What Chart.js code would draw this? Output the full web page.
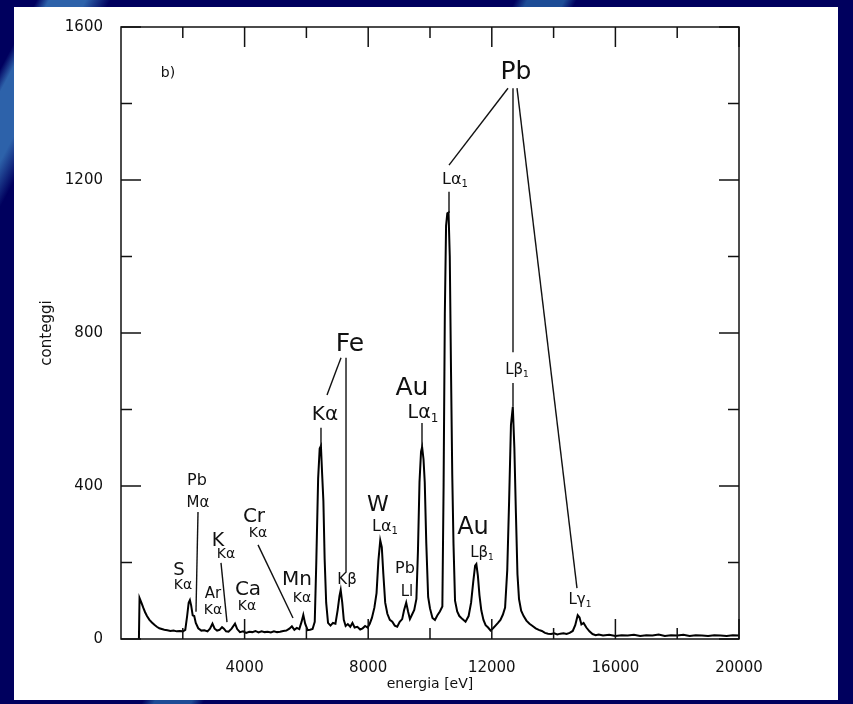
<!DOCTYPE html>
<html>
<head>
<meta charset="utf-8">
<script src="https://cdn.jsdelivr.net/npm/chart.js@4/dist/chart.umd.min.js"></script>
<style>
  html, body { margin: 0; padding: 0; }
  body {
    width: 853px; height: 704px; overflow: hidden;
    background-color: #00005e;
    background-image:
      linear-gradient(118deg, transparent 0%, transparent 3%, #2d62aa 4%, #2d62aa 7%, transparent 9%),
      linear-gradient(118deg, transparent 42%, #1d4c96 43%, #1d4c96 46%, transparent 47%);
  }
  canvas { display: block; }
</style>
</head>
<body>
<canvas id="spectrum" width="853" height="704"></canvas>
<script>
// spectrum: energy [eV] and counts
const energy = [
  580, 600, 660, 720, 780, 840, 920, 1000, 1080, 1160, 1240, 1320, 1400, 1500, 1600, 1700, 1800, 1900, 2000,
  2080, 2140, 2190, 2230, 2270, 2320, 2370, 2420, 2500, 2600, 2700, 2800, 2880, 2960, 3030, 3110, 3190, 3270,
  3330, 3400, 3480, 3580, 3690, 3760, 3850, 3950, 4050, 4150, 4250, 4350, 4450, 4550, 4650, 4750, 4850, 4950,
  5050, 5150, 5250, 5350, 5450, 5530, 5610, 5690, 5770, 5840, 5900, 5960, 6040, 6120, 6200, 6270, 6320, 6380,
  6430, 6470, 6510, 6550, 6590, 6640, 6700, 6780, 6860, 6940, 7010, 7070, 7110, 7160, 7210, 7270, 7340, 7420,
  7490, 7560, 7650, 7740, 7820, 7900, 7980, 8050, 8120, 8200, 8270, 8330, 8390, 8440, 8490, 8550, 8620, 8700,
  8780, 8860, 8940, 9020, 9100, 9160, 9230, 9290, 9350, 9420, 9490, 9560, 9610, 9660, 9710, 9745, 9790, 9830,
  9880, 9940, 10000, 10080, 10160, 10240, 10320, 10400, 10440, 10480, 10520, 10560, 10600, 10640, 10680, 10720,
  10760, 10810, 10880, 10950, 11050, 11150, 11250, 11330, 11400, 11460, 11500, 11550, 11600, 11660, 11730,
  11800, 11880, 11960, 12040, 12120, 12200, 12280, 12360, 12430, 12500, 12560, 12620, 12680, 12730, 12780,
  12830, 12880, 12950, 13030, 13120, 13220, 13320, 13420, 13520, 13620, 13720, 13820, 13920, 14020, 14120,
  14220, 14320, 14420, 14520, 14620, 14700, 14780, 14840, 14900, 14970, 15060, 15160, 15260, 15360, 15460,
  15600, 15800, 16000, 16200, 16400, 16600, 16800, 17000, 17200, 17400, 17600, 17800, 18000, 18200, 18400,
  18600, 18800, 19000, 19200, 19400, 19600, 19800, 20000
];
const counts = [
  0, 107, 95, 82, 70, 60, 50, 43, 37, 32, 28, 26, 24, 23, 21, 22, 20, 21, 20,
  24, 60, 95, 102, 88, 62, 60, 42, 28, 22, 23, 20, 27, 40, 27, 22, 24, 31,
  27, 20, 19, 27, 40, 26, 18, 20, 16, 19, 18, 21, 17, 20, 18, 19, 17, 20,
  18, 19, 21, 22, 27, 33, 24, 29, 26, 44, 63, 40, 23, 24, 26, 45, 200, 420,
  498, 505, 430, 360, 210, 95, 42, 35, 42, 40, 75, 112, 128, 95, 50, 34, 39, 32,
  42, 30, 32, 25, 28, 34, 30, 40, 55, 82, 120, 205, 258, 240, 170, 95, 66, 50,
  45, 35, 32, 45, 52, 75, 95, 72, 52, 64, 76, 105, 230, 410, 490, 502, 470, 410,
  250, 110, 80, 55, 50, 62, 72, 85, 400, 850, 1080, 1113, 1115, 1000, 700, 430,
  250, 100, 72, 60, 52, 45, 60, 95, 150, 192, 196, 165, 115, 75, 50,
  36, 30, 22, 28, 35, 42, 50, 64, 82, 180, 360, 560, 607, 500, 330,
  170, 105, 74, 60, 48, 40, 34, 28, 24, 21, 16, 14, 13, 15, 12,
  14, 15, 13, 16, 21, 36, 62, 56, 38, 42, 30, 20, 13, 10, 12,
  9, 11, 8, 10, 9, 11, 8, 10, 9, 12, 8, 10, 9, 11, 8,
  10, 9, 8, 10, 9, 8, 10, 9
];

// axis ticks
const xTickLabels = [4000, 8000, 12000, 16000, 20000];
const xMinorTicks = [2000, 6000, 10000, 14000, 18000];
const yTickLabels = [0, 400, 800, 1200, 1600];
const yMinorTicks = [200, 600, 1000, 1400];

// peak labels: text, subscript, energy, counts, font size
const labels = [
  ["b)", "", 1521, 1480, 14],
  ["Pb", "", 12783, 1480, 25],
  ["S", "", 1877, 180, 18],
  ["Kα", "", 2006, 139, 14],
  ["Pb", "", 2460, 413, 16],
  ["Mα", "", 2492, 356, 15],
  ["K", "", 3139, 256, 19],
  ["Kα", "", 3398, 222, 14],
  ["Ar", "", 2977, 118, 15],
  ["Kα", "", 2977, 76, 14],
  ["Ca", "", 4110, 128, 20],
  ["Kα", "", 4078, 86, 14],
  ["Cr", "", 4304, 319, 20],
  ["Kα", "", 4434, 277, 14],
  ["Mn", "", 5696, 154, 20],
  ["Kα", "", 5858, 105, 14],
  ["Fe", "", 7411, 769, 25],
  ["Kα", "", 6602, 586, 20],
  ["Kβ", "", 7314, 154, 15],
  ["W", "", 8317, 350, 22],
  ["Lα", "1", 8544, 293, 16],
  ["Pb", "", 9191, 183, 16],
  ["Ll", "", 9256, 123, 15],
  ["Au", "", 9417, 654, 25],
  ["Lα", "1", 9773, 591, 19],
  ["Lα", "1", 10809, 1200, 16],
  ["Au", "", 11392, 290, 24],
  ["Lβ", "1", 11683, 225, 15],
  ["Lβ", "1", 12816, 703, 15],
  ["Lγ", "1", 14854, 102, 15]
];

// leader lines: energy1, counts1, energy2, counts2
const leaders = [
  [12524, 1440, 10615, 1239],
  [12686, 1440, 12686, 750],
  [12816, 1440, 14757, 133],
  [10615, 1169, 10615, 1114],
  [12686, 669, 12686, 607],
  [7120, 735, 6667, 638],
  [7282, 735, 7282, 175],
  [6472, 552, 6472, 502],
  [9741, 565, 9741, 502],
  [2492, 332, 2427, 71],
  [3236, 199, 3430, 44],
  [4434, 246, 5566, 55]
];

const font = "'DejaVu Sans', sans-serif";
const ink = "#111";

const framePlugin = {
  id: "frame",
  beforeDraw(chart) {
    const c = chart.ctx;
    c.save();
    c.fillStyle = "#fff";
    c.fillRect(14, 7, 824, 693);
    c.restore();
  },
  afterDatasetsDraw(chart) {
    const { ctx: c, chartArea: a, scales: { x, y } } = chart;
    c.save();
    c.strokeStyle = ink;
    c.lineWidth = 1.5;
    c.strokeRect(a.left, a.top, a.right - a.left, a.bottom - a.top);

    const seg = (x1, y1, x2, y2) => { c.beginPath(); c.moveTo(x1, y1); c.lineTo(x2, y2); c.stroke(); };
    xTickLabels.concat(xMinorTicks).forEach(v => {
      const px = x.getPixelForValue(v);
      const len = xTickLabels.includes(v) ? 20 : 11;
      seg(px, a.bottom, px, a.bottom - len);
      seg(px, a.top, px, a.top + len);
    });
    yTickLabels.concat(yMinorTicks).forEach(v => {
      const py = y.getPixelForValue(v);
      const len = yTickLabels.includes(v) ? 20 : 11;
      seg(a.left, py, a.left + len, py);
      seg(a.right, py, a.right - len, py);
    });

    // leader lines
    c.lineWidth = 1.4;
    leaders.forEach(([e1, n1, e2, n2]) => {
      seg(x.getPixelForValue(e1), y.getPixelForValue(n1), x.getPixelForValue(e2), y.getPixelForValue(n2));
    });

    // peak labels
    c.fillStyle = ink;
    c.textBaseline = "middle";
    labels.forEach(([t, sub, e, n, size]) => {
      const px = x.getPixelForValue(e);
      const py = y.getPixelForValue(n);
      c.font = size + "px " + font;
      const w = c.measureText(t).width;
      const subSize = Math.round(size * 0.62);
      c.font = subSize + "px " + font;
      const ws = sub ? c.measureText(sub).width : 0;
      const x0 = px - (w + ws) / 2;
      c.font = size + "px " + font;
      c.textAlign = "left";
      c.fillText(t, x0, py);
      if (sub) {
        c.font = subSize + "px " + font;
        c.fillText(sub, x0 + w, py + size * 0.3);
      }
    });
    c.restore();
  }
};

new Chart(document.getElementById("spectrum"), {
  type: "line",
  data: {
    datasets: [{
      data: energy.map((e, i) => ({ x: e, y: counts[i] })),
      borderColor: "#000",
      borderWidth: 2,
      pointRadius: 0,
      tension: 0,
      fill: false
    }]
  },
  options: {
    responsive: false,
    animation: false,
    layout: { padding: { left: 34, right: 114, top: 27, bottom: 6 } },
    plugins: { legend: { display: false }, tooltip: { enabled: false } },
    scales: {
      x: {
        type: "linear",
        min: 0,
        max: 20000,
        afterBuildTicks: s => { s.ticks = xTickLabels.map(v => ({ value: v })); },
        afterFit: s => { s.height = 59; },
        grid: { display: false },
        border: { display: false },
        ticks: { color: ink, padding: 12, maxRotation: 0, font: { family: font, size: 15 }, callback: v => String(v) },
        title: { display: true, text: "energia [eV]", color: ink, font: { family: font, size: 14 }, padding: { top: 0, bottom: 5 } }
      },
      y: {
        min: 0,
        max: 1600,
        afterBuildTicks: s => { s.ticks = yTickLabels.map(v => ({ value: v })); },
        afterFit: s => { s.width = 87; },
        grid: { display: false },
        border: { display: false },
        ticks: { color: ink, padding: 10, font: { family: font, size: 15 }, callback: v => String(v) },
        title: { display: true, text: "conteggi", color: ink, font: { family: font, size: 15 }, padding: { top: 4, bottom: 0 } }
      }
    }
  },
  plugins: [framePlugin]
});
</script>
</body>
</html>
